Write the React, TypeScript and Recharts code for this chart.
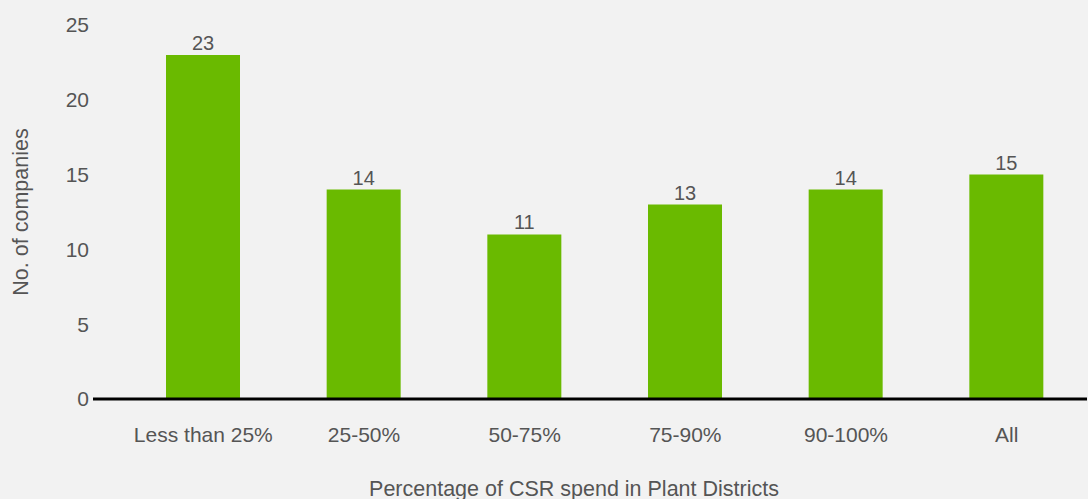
import { BarChart, Bar, XAxis, YAxis, LabelList, Label } from 'recharts';

const categories = ['Less than 25%', '25-50%', '50-75%', '75-90%', '90-100%', 'All'];
const companies = [23, 14, 11, 13, 14, 15];
const yTicks = [0, 5, 10, 15, 20, 25];

const data = categories.map((name, i) => ({ name, value: companies[i] }));

const font = '"Liberation Sans", Arial, sans-serif';
const textColor = '#555555';

export default function App() {
  return (
    <div
      style={{
        position: 'absolute',
        left: 0,
        top: 0,
        width: 1088,
        height: 499,
        background: '#f2f2f2',
        fontFamily: font,
      }}
    >
      <BarChart
        width={1088}
        height={499}
        data={data}
        margin={{ top: 25, right: 1, left: 0, bottom: 0 }}
      >
        <XAxis
          dataKey="name"
          height={100}
          padding={{ left: 30, right: 0 }}
          axisLine={{ stroke: '#000', strokeWidth: 3 }}
          tickLine={false}
          tickMargin={22}
          tick={{ fill: textColor, fontSize: 21, fontFamily: font }}
        >
          <Label
            value="Percentage of CSR spend in Plant Districts"
            position="bottom"
            offset={-18}
            dx={-16}
            style={{ fill: textColor, fontSize: 21.5, fontFamily: font }}
          />
        </XAxis>
        <YAxis
          width={93}
          domain={[0, 25]}
          ticks={yTicks}
          axisLine={false}
          tickLine={false}
          tickSize={2}
          tickMargin={2}
          tick={{ fill: textColor, fontSize: 21, fontFamily: font }}
        >
          <Label
            value="No. of companies"
            angle={-90}
            position="insideLeft"
            offset={20}
            style={{ fill: textColor, fontSize: 21.5, fontFamily: font, textAnchor: 'middle' }}
          />
        </YAxis>
        <Bar dataKey="value" fill="#6aba00" barSize={74} isAnimationActive={false}>
          <LabelList
            dataKey="value"
            position="top"
            offset={5}
            style={{ fill: textColor, fontSize: 20, fontFamily: font }}
          />
        </Bar>
      </BarChart>
    </div>
  );
}
